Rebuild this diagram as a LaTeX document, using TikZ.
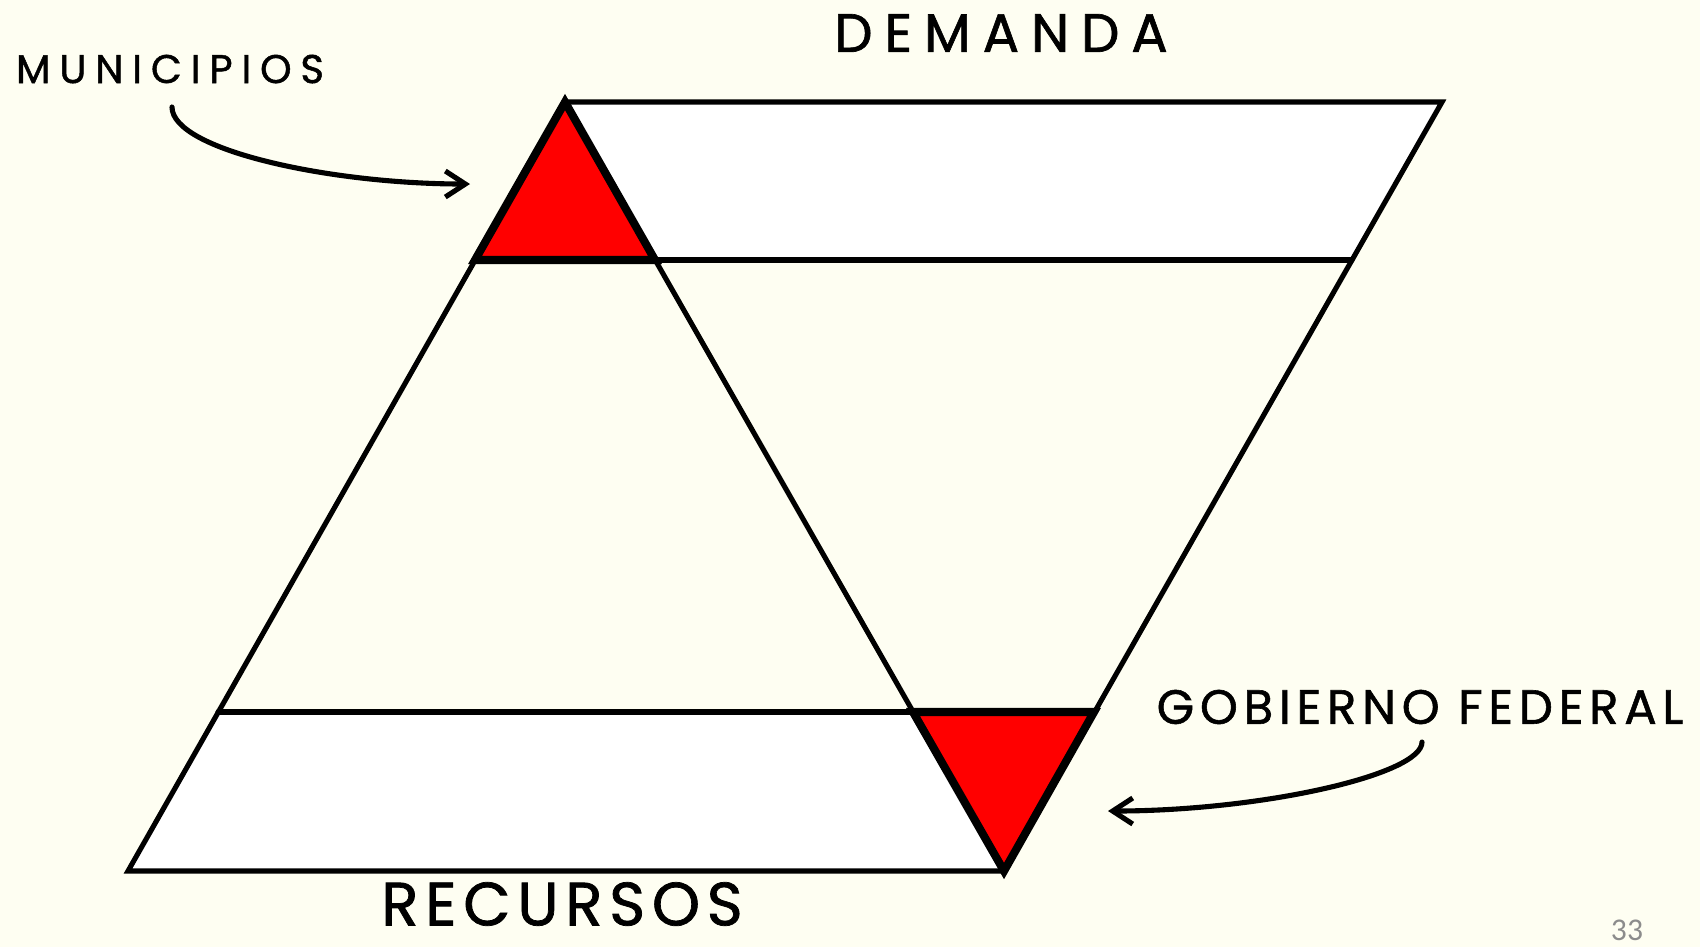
\documentclass[tikz,border=0pt]{standalone}
\usepackage{fontspec}
\usetikzlibrary{arrows.meta}
\newfontfamily\chalk[LetterSpace=22,FakeBold=1.2]{Poppins}
\newfontfamily\chalkrec[LetterSpace=11,FakeBold=1.2]{Poppins}
\newfontfamily\chalkfed[LetterSpace=12,FakeBold=1.2]{Poppins}
\newfontfamily\slidenum{Carlito}
\definecolor{cream}{HTML}{FEFEF2}
\definecolor{pagegray}{HTML}{8C8C8C}
\begin{document}
\begin{tikzpicture}[x=0.01cm, y=-0.01cm, line join=miter, line cap=round,
		edge/.style={line width=1.45pt},
		redtri/.style={fill=red, draw=black, line width=2.3pt},
		label/.style={inner sep=0pt, font=\chalk},
		pointer/.style={line width=1.45pt, -{Straight Barb[length=2mm, width=2.6mm, line width=1.45pt]}}]
	\fill[cream] (0,0) rectangle (1700,947);
	% white bands
	\fill[white] (565,102)--(1442,102)--(1352,260)--(655,260)--cycle;
	\fill[white] (218,712)--(913,712)--(1004,871)--(128,871)--cycle;
	% outline and inner lines
	\draw[edge] (565,102)--(1442,102)--(1004,871)--(128,871)--cycle;
	\draw[edge] (565,102)--(1004,871);
	\draw[edge] (475,260)--(1352,260) (218,712)--(1094,712);
	% red corners
	\draw[redtri] (565,102)--(475,260)--(655,260)--cycle;
	\draw[redtri] (913,712)--(1094,712)--(1004,871)--cycle;
	% labels
	\node[label, font=\chalk\fontsize{15.4pt}{16pt}\selectfont] (demanda) at (1001,33) {DEMANDA};
	\node[label, font=\chalkrec\fontsize{17.4pt}{18pt}\selectfont] (recursos) at (562,904) {RECURSOS};
	\node[label, font=\chalk\fontsize{11.4pt}{12pt}\selectfont] (municipios) at (170,69) {MUNICIPIOS};
	\node[label, font=\chalkfed\fontsize{13.7pt}{15pt}\selectfont] (gobierno) at (1420,707) {GOBIERNO FEDERAL};
	\node[inner sep=0pt, text=pagegray, font=\slidenum\fontsize{9pt}{10pt}\selectfont] (pagina) at (1627,930) {33};
	% arrows
	\coordinate (munitip) at (470,184);
	\coordinate (fedtip) at (1108,811);
	\draw[pointer] (172,107) .. controls (172,150) and (330,184) .. (munitip);
	\draw[pointer] (1422,742) .. controls (1422,775) and (1260,811) .. (fedtip);
\end{tikzpicture}
\end{document}
